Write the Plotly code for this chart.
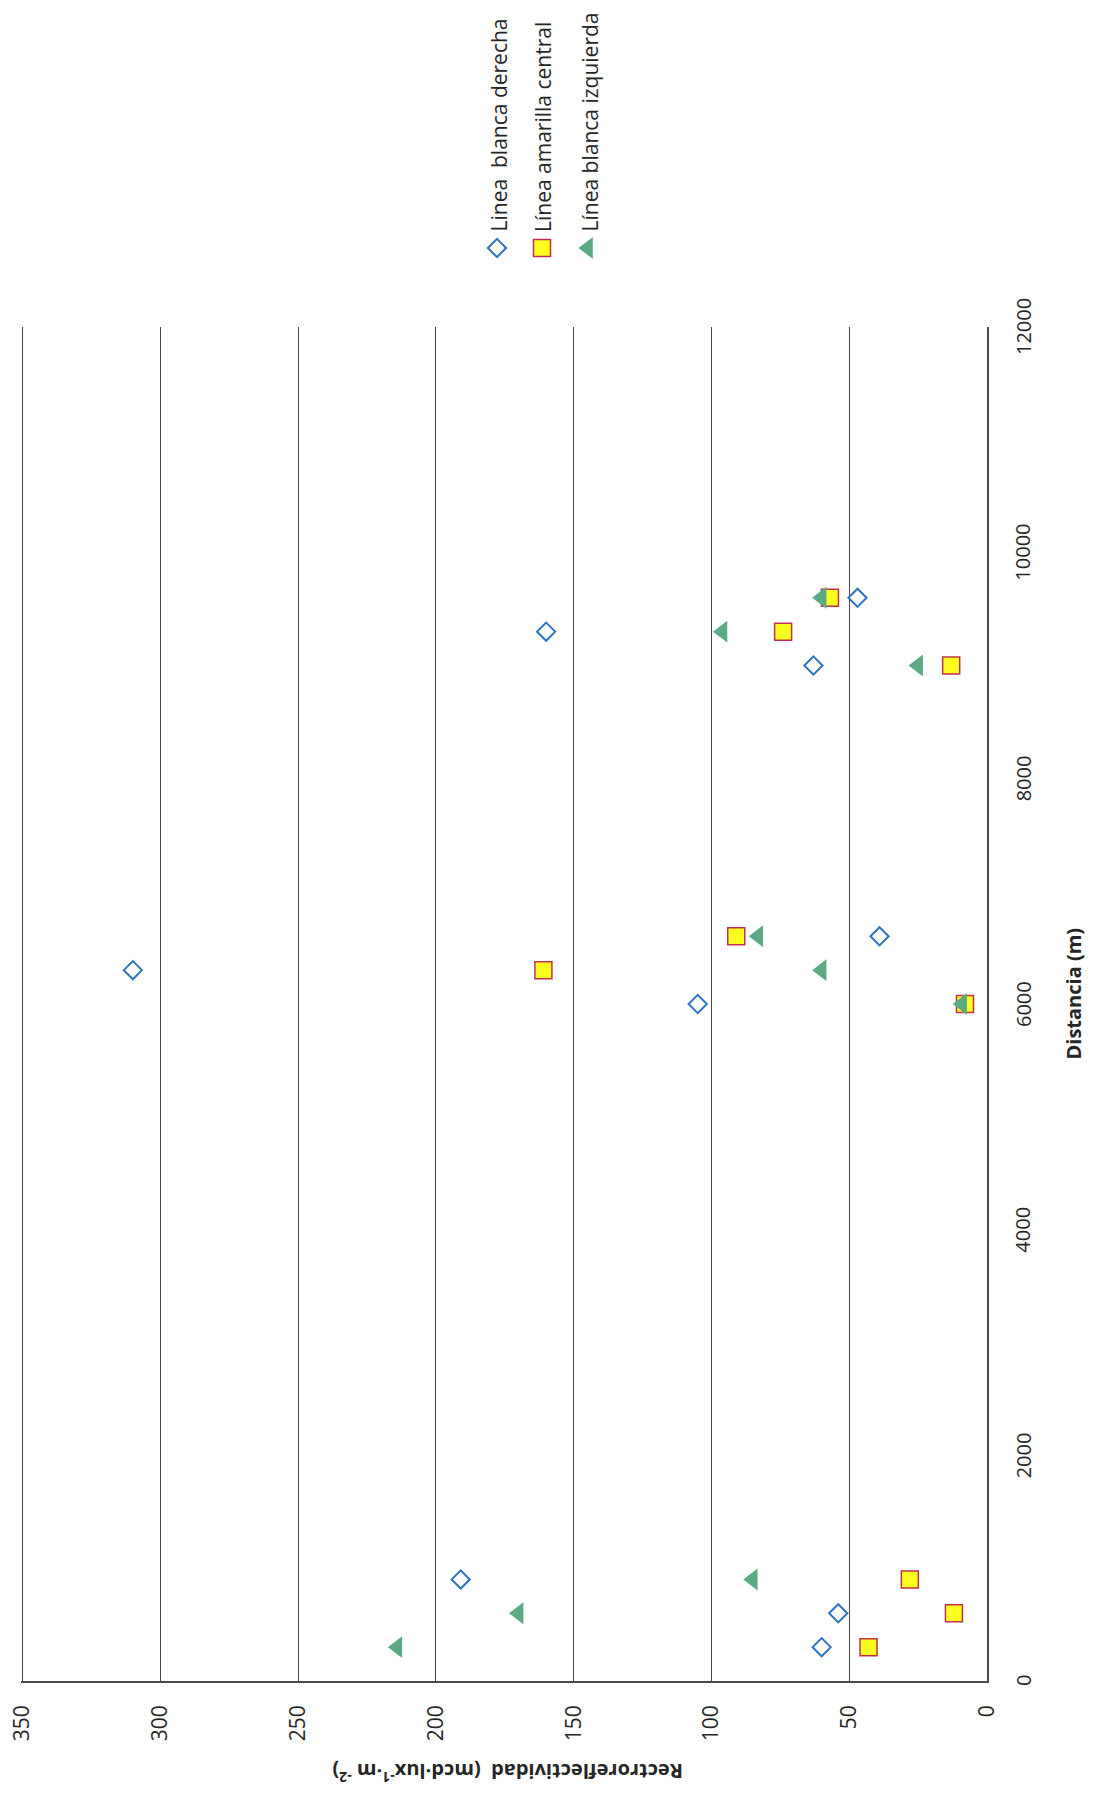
"""Retroreflectividad vs distancia, rotated page layout."""
import plotly.graph_objects as go

# distance along the road (m)
distancia = [300, 600, 900, 6000, 6300, 6600, 9000, 9300, 9600]
# retroreflectivity (mcd·lux-1·m-2)
blanca_derecha = [60, 54, 191, 105, 310, 39, 63, 160, 47]
amarilla_central = [43, 12, 28, 8, 161, 91, 13, 74, 57]
blanca_izquierda = [214, 170, 85, 9, 60, 83, 25, 96, 60]

series_names = ["Linea\u00a0 blanca derecha", "Línea amarilla central", "Línea blanca izquierda"]
value_ticks = [0, 50, 100, 150, 200, 250, 300, 350]
dist_ticks = [0, 2000, 4000, 6000, 8000, 10000, 12000]

FONT = "Open Sans, sans-serif"
INK = "#262626"
GRID = "#4a4a4a"

MARKERS = [
    dict(symbol="diamond-open", size=14, color="#2E74C0", line=dict(color="#2E74C0", width=2)),
    dict(symbol="square", size=17, color="#FFFF1F", line=dict(color="#C0304A", width=1.5)),
    dict(symbol="triangle-left", size=19, color="#5BAA84", line=dict(width=0)),
]

# target plot box in screen pixels (page has an 8px body margin)
W, H, OFF = 1097, 1799, 8
PX_L, PX_R, PX_T, PX_B = 21, 987, 327, 1681
paper_h = PX_B - OFF
paper_w = PX_R - PX_L
main_top = (PX_B - PX_T) / paper_h
leg_dom = 0.18


def px(sx, sy):
    return (sx - PX_L) / paper_w, (PX_B - sy) / paper_h


fig = go.Figure()
for name, vals, mk in zip(series_names, [blanca_derecha, amarilla_central, blanca_izquierda], MARKERS):
    fig.add_trace(go.Scatter(x=vals, y=distancia, mode="markers", name=name,
                             marker=mk, showlegend=False))

# legend keys drawn on a hidden pixel-scaled axis pair above the plot
leg_x = [497, 542, 588]
for lx, mk in zip(leg_x, MARKERS):
    fig.add_trace(go.Scatter(x=[lx], y=[248], mode="markers", marker=mk,
                             xaxis="x2", yaxis="y2", showlegend=False, hoverinfo="skip"))

annotations = []
for lx, name in zip(leg_x, series_names):
    annotations.append(dict(x=lx + 1, y=234, xref="x2", yref="y2", text=name, textangle=-90,
                            showarrow=False, xanchor="center", yanchor="bottom",
                            font=dict(family=FONT, size=21, color=INK)))

# distance tick labels, centred on their ticks
tx, _ = px(1023, 0)
for d in dist_ticks:
    annotations.append(dict(x=tx, y=d, xref="paper", yref="y", text=str(d), textangle=-90,
                            showarrow=False, xanchor="center", yanchor="middle",
                            font=dict(family=FONT, size=20, color=INK)))

ax_, ay_ = px(507, 1789)
annotations.append(dict(
    x=ax_, y=ay_, xref="paper", yref="paper",
    text="<b>Rectroreflectividad  (mcd·lux<sup>-1</sup>·m <sup>-2</sup>)</b>", textangle=180,
    showarrow=False, font=dict(family=FONT, size=20, color=INK)))
dx_, dy_ = px(1088, 994)
annotations.append(dict(
    x=dx_, y=dy_, xref="paper", yref="paper",
    text="<b>Distancia (m)</b>", textangle=-90,
    showarrow=False, font=dict(family=FONT, size=20, color=INK)))

fig.update_layout(
    width=W, height=H,
    paper_bgcolor="white", plot_bgcolor="white",
    margin=dict(l=PX_L - OFF, r=W + OFF - PX_R, t=0, b=H + OFF - PX_B, autoexpand=False),
    font=dict(family=FONT, color=INK),
    xaxis=dict(range=[350.6, 0], tickvals=value_ticks, ticktext=[str(v) for v in value_ticks],
               tickangle=-90, tickfont=dict(size=21), ticklabelstandoff=14,
               ticklabeloverflow="allow",
               showgrid=True, gridcolor=GRID, gridwidth=1.3, zeroline=False,
               showline=True, linecolor=GRID, linewidth=1.6, ticks="", anchor="y",
               automargin=False),
    yaxis=dict(range=[0, 12000], domain=[0, main_top], side="right",
               tickvals=dist_ticks, showticklabels=False,
               showgrid=False, zeroline=False, showline=True, linecolor=GRID, linewidth=1.6,
               ticks="", anchor="x", automargin=False),
    xaxis2=dict(domain=[0, 1], range=[PX_L, PX_R], visible=False, anchor="y2"),
    yaxis2=dict(domain=[1 - leg_dom, 1], range=[OFF + leg_dom * paper_h, OFF],
                visible=False, anchor="x2"),
    annotations=annotations,
)

fig.write_html("out.html")
